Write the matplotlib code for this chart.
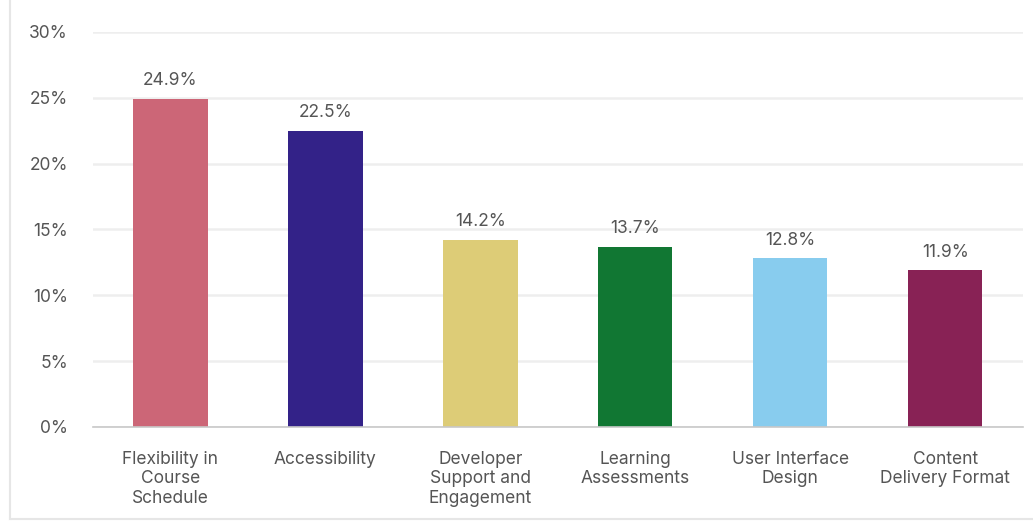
import matplotlib.pyplot as plt
from matplotlib.lines import Line2D
import numpy as np

plt.rcParams['font.family'] = ['Inter', 'DejaVu Sans']

categories = ["Flexibility in\nCourse\nSchedule", "Accessibility",
              "Developer\nSupport and\nEngagement", "Learning\nAssessments",
              "User Interface\nDesign", "Content\nDelivery Format"]
values = [24.9, 22.5, 14.2, 13.7, 12.8, 11.9]
colors = ["#CC6677", "#332288", "#DDCC77", "#117733", "#88CCEE", "#882255"]
yticks = [0, 5, 10, 15, 20, 25, 30]

text_color = "#555555"

fig = plt.figure(figsize=(10.33, 5.22), dpi=100)
ax = fig.add_axes([0.090, 0.182, 0.900, 0.757])

x = np.arange(len(categories))
ax.bar(x, values, width=0.48, color=colors, zorder=3)

for xi, v in zip(x, values):
    ax.annotate(f"{v}%", (xi, v), xytext=(0, 7), textcoords="offset points",
                ha="center", va="bottom", fontsize=12.5, color=text_color)

ax.set_xlim(-0.5, len(categories) - 0.5)
ax.set_ylim(0, 30)
ax.set_yticks(yticks, labels=[f"{t}%" for t in yticks])
ax.set_xticks(x, labels=categories)

ax.tick_params(axis="y", length=0, pad=18, labelsize=12.5, labelcolor=text_color)
ax.tick_params(axis="x", length=0, pad=17, labelsize=12.5, labelcolor=text_color)
for lbl in ax.get_xticklabels():
    lbl.set_linespacing(1.2)
    lbl.set_va("top")

ax.grid(True, axis="y", color="#eeeeee", linewidth=1.8, zorder=0)
for s in ["top", "right", "left"]:
    ax.spines[s].set_visible(False)
ax.spines["bottom"].set_color("#c8c8c8")
ax.spines["bottom"].set_linewidth(1.2)
ax.spines["bottom"].set_zorder(4)

# light frame of the original screenshot
fig.add_artist(Line2D([0.010, 0.010], [0.005, 1.0], color="#e6e6e6", linewidth=1.5,
                      transform=fig.transFigure))
fig.add_artist(Line2D([0.010, 1.0], [0.005, 0.005], color="#e6e6e6", linewidth=1.5,
                      transform=fig.transFigure))

fig.savefig("out.png", dpi=100)
